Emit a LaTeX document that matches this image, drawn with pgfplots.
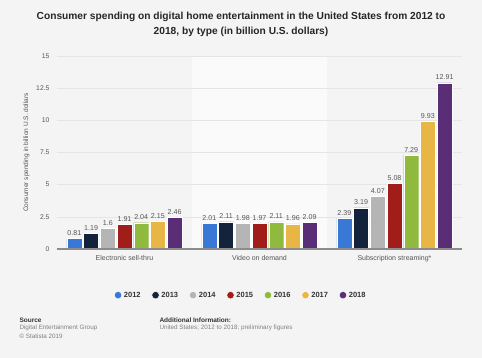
\documentclass[border=0pt]{standalone}
\usepackage{pgfplots}
\pgfplotsset{compat=1.18}
\usepackage{fontspec}
\setmainfont{Liberation Sans}
\definecolor{bg}{HTML}{F4F4F4}
\definecolor{band}{HTML}{FAFAFA}
\definecolor{c12}{HTML}{3A78D6}
\definecolor{c13}{HTML}{13233B}
\definecolor{c14}{HTML}{B5B5B5}
\definecolor{c15}{HTML}{A11D1A}
\definecolor{c16}{HTML}{8FBA3E}
\definecolor{c17}{HTML}{E7B645}
\definecolor{c18}{HTML}{5A2D77}
\definecolor{txt}{HTML}{555555}
\begin{document}
\begin{tikzpicture}
\fill[bg] (0pt,0pt) rectangle (482pt,358pt);
\node[font=\bfseries\fontsize{10.2}{15}\selectfont, align=center, text=black!85] at (241pt,333.5pt) {Consumer spending on digital home entertainment in the United States from 2012 to\\2018, by type (in billion U.S. dollars)};
\begin{axis}[
  at={(57pt,109pt)}, anchor=south west,
  scale only axis, width=405pt, height=193pt,
  xmin=-0.5, xmax=2.5, ymin=0, ymax=15,
  ybar=1.7pt, bar width=15pt,
  xtick={0,1,2}, xticklabels={Electronic sell-thru,Video on demand,Subscription streaming*},
  ytick={0,2.5,5,7.5,10,12.5,15},
  yticklabels={0,2.5,5,7.5,10,12.5,15},
  major tick length=0pt,
  axis line style={draw=none},
  tick label style={font=\fontsize{6.8}{8}\selectfont, text=txt},
  xticklabel style={yshift=-3pt, font=\fontsize{7}{8}\selectfont},
  yticklabel style={xshift=-4pt},
  ylabel={Consumer spending in billion U.S. dollars},
  ylabel style={font=\fontsize{6.5}{8}\selectfont, text=txt, yshift=0pt},
  nodes near coords,
  every node near coord/.append style={font=\fontsize{7.1}{8}\selectfont, text=txt, yshift=-0.5pt},
  point meta=explicit symbolic,
  legend style={at={(0.454,-0.2)}, anchor=north, draw=none, fill=none, legend columns=7,
    font=\bfseries\fontsize{7.5}{9}\selectfont, text=black!80,
    /tikz/every even column/.append style={column sep=9pt}},
  legend image code/.code={\fill[#1] (3pt,0pt) circle (3.7pt);},
  clip=false,
  axis background/.style={fill=bg},
]
\fill[band] (axis cs:0.5,0) rectangle (axis cs:1.5,15);
\draw[black!10, line width=0.5pt] (axis cs:-0.5,2.5) -- (axis cs:2.5,2.5);
\draw[black!10, line width=0.5pt] (axis cs:-0.5,5) -- (axis cs:2.5,5);
\draw[black!10, line width=0.5pt] (axis cs:-0.5,7.5) -- (axis cs:2.5,7.5);
\draw[black!10, line width=0.5pt] (axis cs:-0.5,10) -- (axis cs:2.5,10);
\draw[black!10, line width=0.5pt] (axis cs:-0.5,12.5) -- (axis cs:2.5,12.5);
\draw[black!10, line width=0.5pt] (axis cs:-0.5,15) -- (axis cs:2.5,15);
\addplot[fill=c12, draw=white, line width=0.4pt] coordinates {(0,0.81)[0.81] (1,2.01)[2.01] (2,2.39)[2.39]};
\addplot[fill=c13, draw=white, line width=0.4pt] coordinates {(0,1.19)[1.19] (1,2.11)[2.11] (2,3.19)[3.19]};
\addplot[fill=c14, draw=white, line width=0.4pt] coordinates {(0,1.6)[1.6] (1,1.98)[1.98] (2,4.07)[4.07]};
\addplot[fill=c15, draw=white, line width=0.4pt] coordinates {(0,1.91)[1.91] (1,1.97)[1.97] (2,5.08)[5.08]};
\addplot[fill=c16, draw=white, line width=0.4pt] coordinates {(0,2.04)[2.04] (1,2.11)[2.11] (2,7.29)[7.29]};
\addplot[fill=c17, draw=white, line width=0.4pt] coordinates {(0,2.15)[2.15] (1,1.96)[1.96] (2,9.93)[9.93]};
\addplot[fill=c18, draw=white, line width=0.4pt] coordinates {(0,2.46)[2.46] (1,2.09)[2.09] (2,12.91)[12.91]};
\legend{2012,2013,2014,2015,2016,2017,2018}
\draw[black!45, line width=1.2pt] (axis cs:-0.5,0) -- (axis cs:2.5,0);
\end{axis}
\node[anchor=west, font=\bfseries\fontsize{6.5}{8}\selectfont, text=black!80] at (16pt,38pt) {Source};
\node[anchor=west, font=\fontsize{6.3}{8}\selectfont, text=black!50] at (16pt,30pt) {Digital Entertainment Group};
\node[anchor=west, font=\fontsize{6.3}{8}\selectfont, text=black!50] at (16pt,22pt) {\textcopyright{} Statista 2019};
\node[anchor=west, font=\bfseries\fontsize{6.5}{8}\selectfont, text=black!80] at (156pt,38pt) {Additional Information:};
\node[anchor=west, font=\fontsize{6.3}{8}\selectfont, text=black!50] at (156pt,30pt) {United States; 2012 to 2018; preliminary figures};
\end{tikzpicture}
\end{document}
